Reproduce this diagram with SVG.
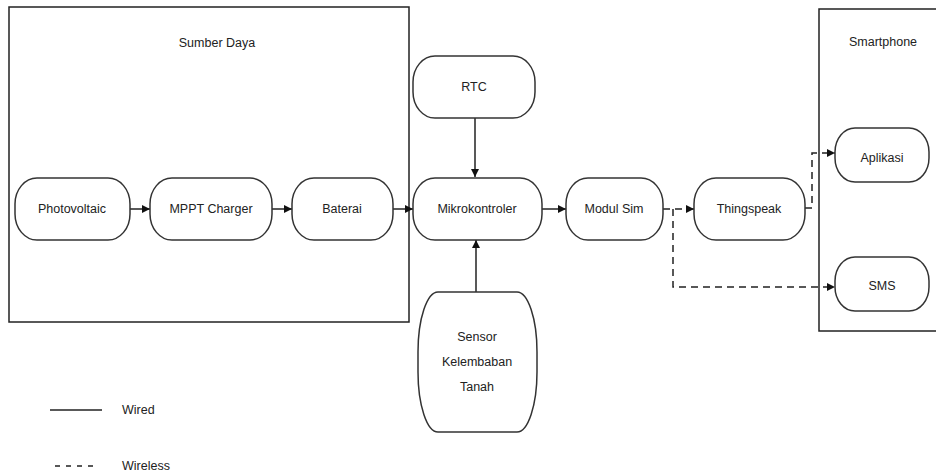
<svg xmlns="http://www.w3.org/2000/svg" width="936" height="474" viewBox="0 0 936 474">
<style>
text{font-family:"Liberation Sans",Arial,sans-serif;font-size:12.5px;fill:#222;text-anchor:middle;dominant-baseline:central}
.node{fill:#fff;stroke:#333;stroke-width:1.5}
.grp{fill:none;stroke:#222;stroke-width:1.5}
.c{fill:none;stroke:#222;stroke-width:1.5}
.d{fill:none;stroke:#222;stroke-width:1.5;stroke-dasharray:7,5}
</style>
<defs>
<marker id="ah" viewBox="0 0 10 10" refX="10" refY="5" markerWidth="8" markerHeight="8" markerUnits="userSpaceOnUse" orient="auto">
<path d="M0,0 L10,5 L0,10 Z" fill="#111"/>
</marker>
</defs>
<g id="sumber-daya">
<rect class="grp" x="9" y="7" width="400" height="315"/>
<text x="217" y="43">Sumber Daya</text>
</g>
<g id="smartphone">
<rect class="grp" x="819" y="9" width="130" height="322"/>
<text x="883" y="42">Smartphone</text>
</g>
<g id="connectors">
<line class="c" x1="130" y1="209" x2="150" y2="209" marker-end="url(#ah)"/>
<line class="c" x1="272" y1="209" x2="292" y2="209" marker-end="url(#ah)"/>
<line class="c" x1="393" y1="209" x2="413" y2="209" marker-end="url(#ah)"/>
<line class="c" x1="475" y1="118" x2="475" y2="177" marker-end="url(#ah)"/>
<line class="c" x1="476" y1="292" x2="476" y2="240" marker-end="url(#ah)"/>
<line class="c" x1="542" y1="209" x2="566" y2="209" marker-end="url(#ah)"/>
<line class="d" x1="663" y1="209" x2="694" y2="209" marker-end="url(#ah)"/>
<polyline class="d" points="673,209 673,287 835,287" marker-end="url(#ah)"/>
<polyline class="d" points="805,208 812,208 812,153 835,153" marker-end="url(#ah)"/>
</g>
<g id="photovoltaic"><rect class="node" x="15" y="178" width="115" height="62" rx="22" ry="26"/><text x="72" y="209">Photovoltaic</text></g>
<g id="mppt"><rect class="node" x="150" y="178" width="122" height="62" rx="22" ry="26"/><text x="211" y="209">MPPT Charger</text></g>
<g id="baterai"><rect class="node" x="292" y="178" width="101" height="62" rx="22" ry="26"/><text x="342" y="209">Baterai</text></g>
<g id="rtc"><rect class="node" x="413" y="56" width="122" height="62" rx="22" ry="26"/><text x="474" y="87">RTC</text></g>
<g id="mikrokontroler"><rect class="node" x="413" y="178" width="129" height="62" rx="22" ry="26"/><text x="477" y="209">Mikrokontroler</text></g>
<g id="sensor"><rect class="node" x="418" y="292" width="119" height="140" rx="20" ry="60"/>
<text x="477" y="337">Sensor</text><text x="477" y="362">Kelembaban</text><text x="477" y="387">Tanah</text></g>
<g id="modul-sim"><rect class="node" x="566" y="178" width="97" height="62" rx="22" ry="26"/><text x="614" y="209">Modul Sim</text></g>
<g id="thingspeak"><rect class="node" x="694" y="178" width="111" height="62" rx="22" ry="26"/><text x="749" y="209">Thingspeak</text></g>
<g id="aplikasi"><rect class="node" x="835" y="128" width="94" height="54" rx="20" ry="24"/><text x="882" y="158">Aplikasi</text></g>
<g id="sms"><rect class="node" x="835" y="257" width="94" height="54" rx="20" ry="24"/><text x="882" y="286">SMS</text></g>
<g id="legend">
<line class="c" x1="50" y1="410" x2="102" y2="410"/>
<text x="122" y="410" style="text-anchor:start">Wired</text>
<line class="c" x1="55" y1="466" x2="98" y2="466" style="stroke-dasharray:5,6"/>
<text x="122" y="466" style="text-anchor:start">Wireless</text>
</g>
</svg>
